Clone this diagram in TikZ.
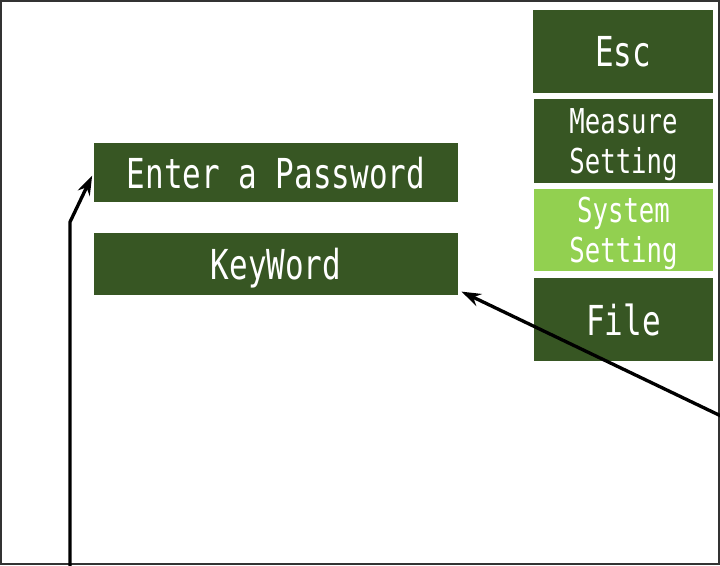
\documentclass[tikz,border=0pt]{standalone}
\usepackage{fontspec}
\usetikzlibrary{arrows.meta}
\newfontfamily\lcd[FakeStretch=0.75]{DejaVu Sans Mono}
\newcommand{\bigtxt}  {\lcd\fontsize{23.5}{27}\selectfont}
\newcommand{\smalltxt}{\lcd\fontsize{19.5}{22.5}\selectfont}
\newcommand{\px}{0.02cm}
\definecolor{darkgr}{HTML}{375623}
\definecolor{lightgr}{HTML}{92D050}

\begin{document}
\begin{tikzpicture}[x=0.02cm,y=-0.02cm,
   key/.style={fill=darkgr,text=white,inner sep=0pt,align=center,font=\bigtxt,text depth=0pt},
   two/.style={key,font=\smalltxt},
   sel/.style={two,fill=lightgr},
   pointer/.style={-{Stealth[length=11pt,width=7.5pt]},line width=1.9pt,shorten >=2pt}]
   \useasboundingbox (0,0) rectangle (720,565);
   \draw[line width=0.9pt,black!80] (1,1) rectangle (719,564);
   % left field
   \node[key,minimum width=364*\px,minimum height=59*\px] (pw) at (276,172.5) {Enter a Password};
   \node[key,minimum width=364*\px,minimum height=62*\px] (kw) at (276,264) {KeyWord};
   % menu
   \node[key,minimum width=180*\px,minimum height=83*\px] (esc)  at (623,51.5) {Esc};
   \node[two,minimum width=179*\px,minimum height=84*\px] (meas) at (623.5,141) {Measure\\Setting};
   \node[sel,minimum width=179*\px,minimum height=82*\px] (sys)  at (623.5,230) {System\\Setting};
   \node[key,minimum width=179*\px,minimum height=83*\px] (file) at (623.5,319.5) {File};
   % pointers
   \coordinate (lb) at (70,566);
   \coordinate (lk) at (70,222);
   \coordinate (rb) at (721,416);
   \draw[pointer] (lb) -- (lk) -- (pw.west);
   \draw[pointer] (rb) -- ([yshift=3pt]kw.south east);
\end{tikzpicture}
\end{document}
